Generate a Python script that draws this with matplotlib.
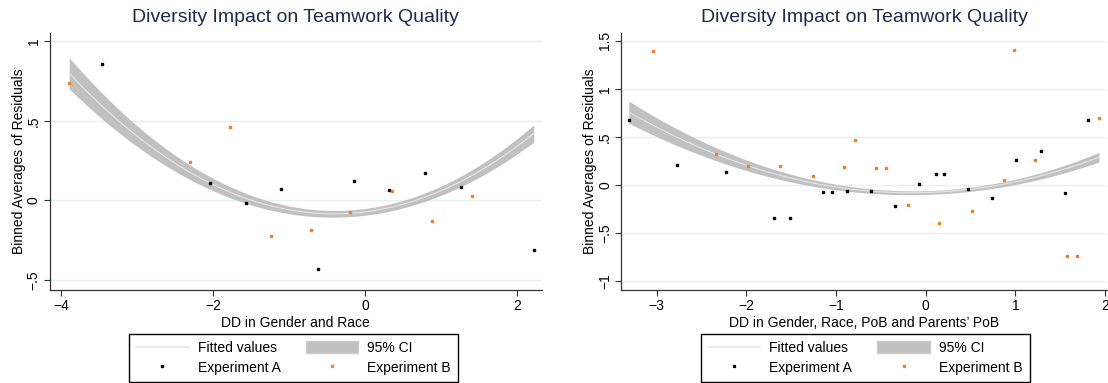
import numpy as np
import matplotlib
matplotlib.use("Agg")
import matplotlib.pyplot as plt
from matplotlib.lines import Line2D
from matplotlib.patches import Patch

plt.rcParams['font.family'] = ['Liberation Sans', 'DejaVu Sans']

title = "Diversity Impact on Teamwork Quality"
ylab = "Binned Averages of Residuals"
legend_labels = ["Fitted values", "95% CI", "Experiment A", "Experiment B"]

# left panel - DD in Gender and Race
l_xlabel = "DD in Gender and Race"
l_a_x = [-3.46, -2.04, -1.57, -1.10, -0.62, -0.15, 0.32, 0.79, 1.27, 2.22]
l_a_y = [0.86, 0.11, -0.015, 0.073, -0.435, 0.123, 0.065, 0.17, 0.085, -0.31]
l_b_x = [-3.89, -2.30, -1.77, -1.24, -0.71, -0.19, 0.35, 0.88, 1.41]
l_b_y = [0.735, 0.24, 0.46, -0.227, -0.186, -0.073, 0.056, -0.13, 0.025]
l_fit = (0.073, -0.41, -0.085)      # curvature, vertex x, vertex y
l_ci = (0.098, 0.021, 0.054)        # CI half width: left end, vertex, right end
l_xticks = [-4, -2, 0, 2]
l_yticks = [-0.5, 0, 0.5, 1]
l_yticklabels = ["\u2212.5", "0", ".5", "1"]

# right panel - DD in Gender, Race, PoB and Parents' PoB
r_xlabel = "DD in Gender, Race, PoB and Parents\u2019 PoB"
r_a_x = [-3.31, -2.77, -2.23, -1.69, -1.51, -1.15, -1.04, -0.88, -0.61, -0.34,
         -0.07, 0.11, 0.20, 0.47, 0.74, 1.01, 1.28, 1.55, 1.81]
r_a_y = [0.68, 0.21, 0.14, -0.337, -0.337, -0.076, -0.076, -0.059, -0.059, -0.215,
         0.014, 0.118, 0.115, -0.045, -0.139, 0.26, 0.358, -0.087, 0.68]
r_b_x = [-3.04, -2.34, -1.98, -1.62, -1.26, -0.91, -0.79, -0.56, -0.44, -0.20,
         0.15, 0.51, 0.87, 0.98, 1.22, 1.57, 1.69, 1.93]
r_b_y = [1.39, 0.32, 0.194, 0.20, 0.09, 0.19, 0.47, 0.18, 0.18, -0.205,
         -0.39, -0.27, 0.056, 1.40, 0.257, -0.736, -0.736, 0.70]
r_fit = (0.0845, -0.16, -0.08)
r_ci = (0.115, 0.02, 0.05)
r_xticks = [-3, -2, -1, 0, 1, 2]
r_yticks = [-1, -0.5, 0, 0.5, 1, 1.5]
r_yticklabels = ["\u22121", "\u2212.5", "0", ".5", "1", "1.5"]

ORANGE = '#f7801b'
NAVY = '#1c2b4f'
GRID = '#e6eff1'
BAND = '#c0c0c0'
FITLINE = '#e6e6e6'

W, H = 1108, 383
fig = plt.figure(figsize=(W / 100, H / 100), dpi=100)


def panel(px_left, px_right, xlim, ylim, ax_x, ax_y, bx, by, fit, ci,
          xticks, yticks, yticklabels, xlabel):
    ax = fig.add_axes([px_left / W, (H - 290) / H, (px_right - px_left) / W, (290 - 32.7) / H])
    ax.set_xlim(*xlim)
    ax.set_ylim(*ylim)

    xs = np.linspace(min(ax_x + bx), max(ax_x + bx), 200)
    a, h, k = fit
    yfit = a * (xs - h) ** 2 + k
    x0, x1 = xs[0], xs[-1]
    wc = np.polyfit([x0, h, x1], list(ci), 2)
    w = np.polyval(wc, xs)
    ax.fill_between(xs, yfit - w, yfit + w, color=BAND, lw=0, zorder=2)
    ax.plot(xs, yfit, color=FITLINE, lw=0.8, zorder=3)
    ax.plot(ax_x, ax_y, ls='none', marker='s', ms=1.9, color='black', zorder=4)
    ax.plot(bx, by, ls='none', marker='s', ms=1.9, color=ORANGE, mec=ORANGE, zorder=4)

    ax.set_xticks(xticks)
    ax.set_yticks(yticks)
    ax.set_yticklabels(yticklabels, rotation=90, va='center')
    ax.yaxis.grid(True, color=GRID, lw=1.0)
    ax.set_axisbelow(True)
    for s in ['top', 'right']:
        ax.spines[s].set_visible(False)
    for s in ['left', 'bottom']:
        ax.spines[s].set_color('#333333')
        ax.spines[s].set_linewidth(0.9)
    ax.tick_params(direction='out', length=4.5, width=0.8, color='#333333',
                   labelsize=10, pad=2)
    ax.set_xlabel(xlabel, fontsize=10, labelpad=2)
    ax.set_ylabel(ylab, fontsize=10, labelpad=0.8)
    ax.set_title(title, fontsize=14, color=NAVY, pad=8)
    return ax


panel(49.8, 541.7, (-4.145, 2.325), (-0.564, 1.054), l_a_x, l_a_y, l_b_x, l_b_y,
      l_fit, l_ci, l_xticks, l_yticks, l_yticklabels, l_xlabel)
panel(621.1, 1107, (-3.396, 2.02), (-1.09, 1.583), r_a_x, r_a_y, r_b_x, r_b_y,
      r_fit, r_ci, r_xticks, r_yticks, r_yticklabels, r_xlabel)

handles = [
    Line2D([], [], color=FITLINE, lw=1.2),
    Line2D([], [], ls='none', marker='s', ms=1.4, color='black'),
    Patch(facecolor=BAND, edgecolor='#cccccc'),
    Line2D([], [], ls='none', marker='s', ms=1.4, color=ORANGE),
]
labels = [legend_labels[0], legend_labels[2], legend_labels[1], legend_labels[3]]
for x0 in [129, 700.7]:
    fig.legend(handles, labels, ncol=2, loc='lower left',
               bbox_to_anchor=(x0 / W, 1.5 / H),
               fontsize=10, frameon=True, fancybox=False, edgecolor='black',
               framealpha=1, handlelength=3.8, handleheight=1.0,
               handletextpad=0.65, columnspacing=1.8, labelspacing=0.4,
               borderpad=0.5, borderaxespad=0)

fig.savefig("out.png", dpi=100)
